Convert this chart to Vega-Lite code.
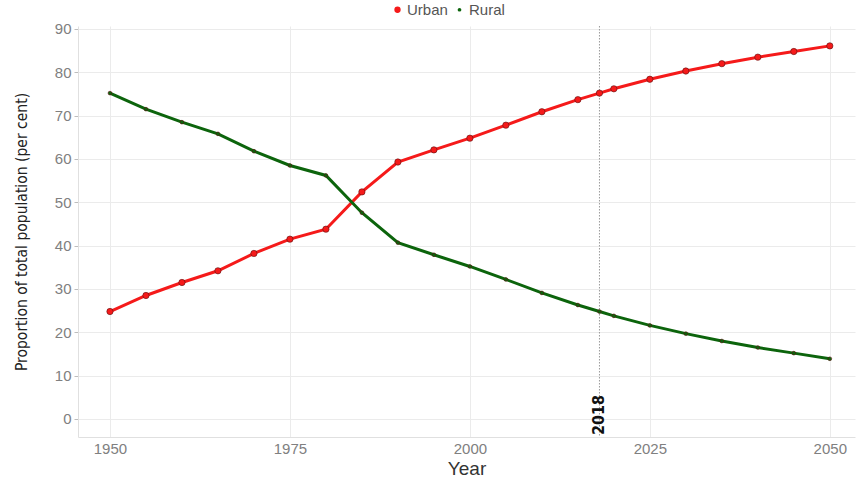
{
  "$schema": "https://vega.github.io/schema/vega-lite/v6.json",
  "width": 777,
  "height": 411,
  "autosize": "none",
  "padding": {"left": 78, "top": 26, "right": 2, "bottom": 40},
  "background": "white",
  "config": {
    "view": {"stroke": null},
    "font": "Liberation Sans",
    "axis": {
      "gridColor": "#ebebeb",
      "gridWidth": 1,
      "domainColor": "#e0e0e0",
      "tickColor": "#bdbdbd",
      "labelColor": "#808080",
      "labelFontSize": 15,
      "titleColor": "#333333",
      "titleFontWeight": "normal"
    }
  },
  "datasets": {
    "pop": [
      {"Year": 1950, "Area": "Urban", "Value": 24.8},
      {"Year": 1955, "Area": "Urban", "Value": 28.5},
      {"Year": 1960, "Area": "Urban", "Value": 31.5},
      {"Year": 1965, "Area": "Urban", "Value": 34.2},
      {"Year": 1970, "Area": "Urban", "Value": 38.2},
      {"Year": 1975, "Area": "Urban", "Value": 41.5},
      {"Year": 1980, "Area": "Urban", "Value": 43.8},
      {"Year": 1985, "Area": "Urban", "Value": 52.4},
      {"Year": 1990, "Area": "Urban", "Value": 59.3},
      {"Year": 1995, "Area": "Urban", "Value": 62.1},
      {"Year": 2000, "Area": "Urban", "Value": 64.8},
      {"Year": 2005, "Area": "Urban", "Value": 67.8},
      {"Year": 2010, "Area": "Urban", "Value": 70.9},
      {"Year": 2015, "Area": "Urban", "Value": 73.7},
      {"Year": 2018, "Area": "Urban", "Value": 75.2},
      {"Year": 2020, "Area": "Urban", "Value": 76.2},
      {"Year": 2025, "Area": "Urban", "Value": 78.4},
      {"Year": 2030, "Area": "Urban", "Value": 80.3},
      {"Year": 2035, "Area": "Urban", "Value": 82.0},
      {"Year": 2040, "Area": "Urban", "Value": 83.5},
      {"Year": 2045, "Area": "Urban", "Value": 84.8},
      {"Year": 2050, "Area": "Urban", "Value": 86.1},
      {"Year": 1950, "Area": "Rural", "Value": 75.2},
      {"Year": 1955, "Area": "Rural", "Value": 71.5},
      {"Year": 1960, "Area": "Rural", "Value": 68.5},
      {"Year": 1965, "Area": "Rural", "Value": 65.8},
      {"Year": 1970, "Area": "Rural", "Value": 61.8},
      {"Year": 1975, "Area": "Rural", "Value": 58.5},
      {"Year": 1980, "Area": "Rural", "Value": 56.2},
      {"Year": 1985, "Area": "Rural", "Value": 47.6},
      {"Year": 1990, "Area": "Rural", "Value": 40.7},
      {"Year": 1995, "Area": "Rural", "Value": 37.9},
      {"Year": 2000, "Area": "Rural", "Value": 35.2},
      {"Year": 2005, "Area": "Rural", "Value": 32.2},
      {"Year": 2010, "Area": "Rural", "Value": 29.1},
      {"Year": 2015, "Area": "Rural", "Value": 26.3},
      {"Year": 2018, "Area": "Rural", "Value": 24.8},
      {"Year": 2020, "Area": "Rural", "Value": 23.8},
      {"Year": 2025, "Area": "Rural", "Value": 21.6},
      {"Year": 2030, "Area": "Rural", "Value": 19.7},
      {"Year": 2035, "Area": "Rural", "Value": 18.0},
      {"Year": 2040, "Area": "Rural", "Value": 16.5},
      {"Year": 2045, "Area": "Rural", "Value": 15.2},
      {"Year": 2050, "Area": "Rural", "Value": 13.9}
    ],
    "marker": [
      {"Year": 2018, "Label": "2018", "Pos": -3.7}
    ]
  },
  "layer": [
    {
      "data": {"name": "marker"},
      "mark": {"type": "rule", "color": "#9a9a9a", "strokeDash": [1.5, 1.5], "strokeWidth": 1},
      "encoding": {
        "x": {"field": "Year", "type": "quantitative", "scale": {"domain": [1945.56, 2053.5], "nice": false, "zero": false}}
      }
    },
    {
      "data": {"name": "pop"},
      "mark": {"type": "line", "strokeWidth": 3},
      "encoding": {
        "x": {
          "field": "Year", "type": "quantitative",
          "scale": {"domain": [1945.56, 2053.5], "nice": false, "zero": false},
          "axis": {"values": [1950, 1975, 2000, 2025, 2050], "format": "d", "title": "Year", "titleFontSize": 19, "tickSize": 0, "labelPadding": 4, "titlePadding": 3}
        },
        "y": {
          "field": "Value", "type": "quantitative",
          "scale": {"domain": [-4.154, 90.69], "nice": false, "zero": false},
          "axis": {"values": [0, 10, 20, 30, 40, 50, 60, 70, 80, 90], "title": "Proportion of total population (per cent)", "titleFont": "DejaVu Sans Condensed, Liberation Sans, sans-serif", "titleFontSize": 15.5, "titleColor": "#222222", "tickSize": 4, "labelPadding": 3, "titlePadding": 25}
        },
        "color": {
          "field": "Area", "type": "nominal",
          "scale": {"domain": ["Urban", "Rural"], "range": ["#f51a1a", "#0c640c"]},
          "legend": {
            "title": null, "orient": "none", "direction": "horizontal",
            "legendX": 312, "legendY": -24,
            "symbolType": "circle", "symbolSize": 60, "symbolStrokeWidth": 0,
            "labelFontSize": 15, "labelColor": "#555555", "columnPadding": 4, "symbolOffset": 0, "labelOffset": 2
          }
        }
      }
    },
    {
      "data": {"name": "pop"},
      "mark": {"type": "point", "filled": true, "stroke": "#5a1010", "strokeWidth": 0.6, "opacity": 1},
      "encoding": {
        "x": {"field": "Year", "type": "quantitative"},
        "y": {"field": "Value", "type": "quantitative"},
        "color": {"field": "Area", "type": "nominal", "legend": null},
        "size": {"field": "Area", "type": "nominal", "scale": {"domain": ["Urban", "Rural"], "range": [40, 14]}, "legend": null}
      }
    },
    {
      "data": {"name": "marker"},
      "mark": {"type": "text", "angle": 270, "fontWeight": "bold", "fontSize": 16, "font": "DejaVu Sans Condensed, Liberation Sans, sans-serif", "color": "#111111", "align": "left", "baseline": "middle"},
      "encoding": {
        "x": {"field": "Year", "type": "quantitative"},
        "y": {"field": "Pos", "type": "quantitative"},
        "text": {"field": "Label"}
      }
    }
  ]
}
